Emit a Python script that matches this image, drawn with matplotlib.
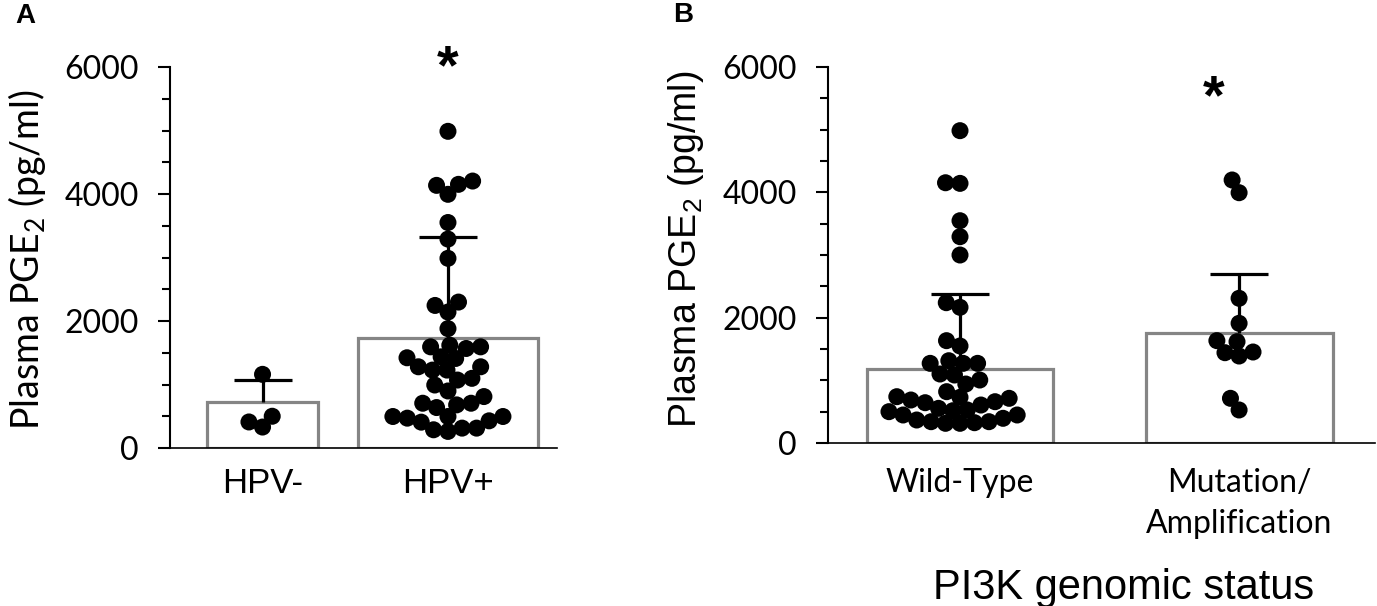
import numpy as np
import matplotlib
matplotlib.use('Agg')
import matplotlib.pyplot as plt

# values (pg/ml)
hpv_labels = ['HPV-', 'HPV+']
hpv_neg = [500, 330, 410, 1160]
hpv_pos = [4987, 4204, 3995, 4136, 4152, 3551, 3290, 2987, 2245, 2298, 2141, 1880,
           1593, 1619, 1593, 1567, 1421, 1410, 1436, 1227, 1227, 1279, 1279, 1097,
           992, 1070, 898, 810, 637, 679, 705, 705, 496, 470, 496, 428, 496, 407,
           313, 261, 287, 313]
hpv_mean = [720, 1734]
hpv_sd = [345, 1582]

pi3k_labels = ['Wild-Type', 'Mutation/\nAmplification']
wild_type = [4984, 4143, 4153, 3547, 3292, 3000, 2165, 2239, 1548, 1633, 1271, 1271,
             1271, 1313, 1085, 1101, 1005, 941, 819, 739, 713, 686, 643, 659, 729,
             606, 553, 527, 515, 500, 447, 394, 340, 314, 314, 324, 340, 367, 447]
mutation = [4197, 3994, 2309, 1910, 1617, 1633, 1441, 1388, 1452, 713, 527]
pi3k_mean = [1176, 1760]
pi3k_sd = [1197, 937]

yticks = [0, 2000, 4000, 6000]

plt.rcParams['font.family'] = ['Lato', 'DejaVu Sans']
plt.rcParams['mathtext.fontset'] = 'custom'
plt.rcParams['mathtext.rm'] = 'Lato'

fig = plt.figure(figsize=(13.77, 6.06), dpi=100)
axA = fig.add_axes([170 / 1377, 1 - 448 / 606, 387 / 1377, 381 / 606])
axB = fig.add_axes([828 / 1377, 1 - 443 / 606, 547 / 1377, 376 / 606])


def swarm(ax, center, values, diam=14.5):
    # simple beeswarm in pixel space, points placed from bottom to top
    tr = ax.transData
    cx = tr.transform((center, 0))[0]
    pts = [tr.transform((center, v)) for v in values]
    order = np.argsort([p[1] for p in pts])
    placed = []
    xs = np.zeros(len(values))
    for i in order:
        y = pts[i][1]
        cands = [cx]
        for (px, py) in placed:
            dy = abs(py - y)
            if dy < diam:
                dx = np.sqrt(diam ** 2 - dy ** 2)
                cands += [px - dx, px + dx]
        cands.sort(key=lambda c: abs(c - cx))
        for c in cands:
            ok = all((c - px) ** 2 + (y - py) ** 2 >= diam ** 2 - 1e-6 for px, py in placed)
            if ok:
                break
        placed.append((c, y))
        xs[i] = tr.inverted().transform((c, y))[0]
    return xs


def style_axis(ax, xlim):
    ax.set_xlim(*xlim)
    ax.set_ylim(0, 6000)
    ax.spines['top'].set_visible(False)
    ax.spines['right'].set_visible(False)
    ax.spines['left'].set_linewidth(1.5)
    ax.spines['bottom'].set_linewidth(1.2)
    ax.set_yticks(yticks)
    ax.set_yticks(np.arange(0, 6001, 500), minor=True)
    ax.tick_params(axis='y', which='major', length=8.5, width=1.5, pad=14, labelsize=23)
    ax.tick_params(axis='y', which='minor', length=6, width=1.5)
    ax.tick_params(axis='x', length=0)


def panel(ax, groups, means, sds, widths):
    pos = np.arange(len(groups))
    ax.bar(pos, means, width=widths, color='white', edgecolor='#858585',
           linewidth=2.3, zorder=1)
    eb = ax.errorbar(pos, means, yerr=[np.zeros(len(sds)), sds], fmt='none',
                     ecolor='black', elinewidth=2.3, capsize=21, capthick=2.3, zorder=2)
    # only the upper cap is drawn in the original
    eb[1][0].set_visible(False)
    for p, vals in zip(pos, groups):
        xs = swarm(ax, p, vals)
        ax.scatter(xs, vals, s=150, color='black', edgecolors='none', zorder=3)


style_axis(axA, (-0.499, 1.588))
style_axis(axB, (-0.473, 1.487))

panel(axA, [hpv_neg, hpv_pos], hpv_mean, hpv_sd, [0.598, 0.970])
panel(axB, [wild_type, mutation], pi3k_mean, pi3k_sd, [0.67, 0.67])

axA.set_xticks([0, 1])
axA.set_xticklabels(hpv_labels, fontsize=25, family=['Liberation Sans'])
axA.tick_params(axis='x', pad=14)
axB.set_xticks([0, 1])
axB.set_xticklabels(pi3k_labels, fontsize=23, linespacing=1.45)
axB.tick_params(axis='x', pad=18)

ylab = 'Plasma PGE$_{\\mathregular{2}}$ (pg/ml)'
fig.text(27 / 1377, 1 - 260 / 606, ylab, rotation=90, ha='center', va='center', fontsize=27)
fig.text(686 / 1377, 1 - 249 / 606, ylab, rotation=90, ha='center', va='center',
         fontsize=27, family=['Liberation Sans'])
fig.text(1124 / 1377, 1 - 588 / 606, 'PI3K genomic status', ha='center', va='center',
         fontsize=30, family=['Liberation Sans'])

fig.text(25 / 1377, 1 - 16 / 606, 'A', ha='center', va='center', fontsize=20,
         fontweight='bold', family=['Liberation Sans'])
fig.text(683 / 1377, 1 - 15 / 606, 'B', ha='center', va='center', fontsize=20,
         fontweight='bold', family=['Liberation Sans'])

axA.text(1, 5960, '*', ha='center', va='center', fontsize=40, fontweight='bold',
         family=['Liberation Sans'], clip_on=False)
axB.text(0.91, 5480, '*', ha='center', va='center', fontsize=40, fontweight='bold',
         family=['Liberation Sans'], clip_on=False)

fig.savefig('out.png', dpi=100)
